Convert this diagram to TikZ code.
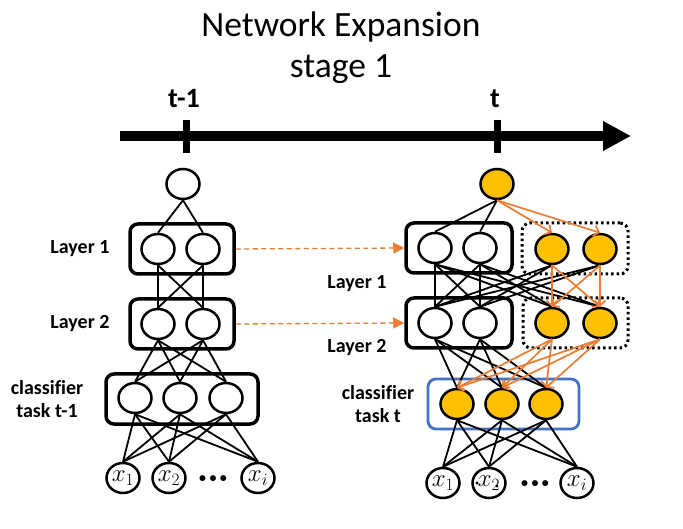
\documentclass[tikz,border=0pt]{standalone}
\usepackage{fontspec}
\setmainfont{Carlito}
\usetikzlibrary{shapes.geometric,arrows.meta}
\definecolor{nodeor}{HTML}{FFC000}
\definecolor{lineor}{HTML}{ED7D31}
\definecolor{boxblue}{HTML}{4472C4}
\begin{document}
\begin{tikzpicture}[x=1pt,y=-1pt,
  neuron/.style={ellipse,draw,fill=white,line width=2.5pt,minimum width=33pt,minimum height=30pt,inner sep=0pt},
  onode/.style={neuron,fill=nodeor},
  layerbox/.style={draw,rounded corners=8pt,line width=3.5pt,inner sep=0pt},
  dotbox/.style={draw,rounded corners=8pt,line width=3pt,dash pattern=on 2.5pt off 3pt,inner sep=0pt},
  bluebox/.style={draw=boxblue,rounded corners=8pt,line width=2.8pt,inner sep=0pt},
  edge/.style={line width=1.8pt},
  oarrow/.style={draw=lineor,line width=1.7pt,-{Straight Barb[length=5pt,width=11pt]}},
  darrow/.style={draw=lineor,line width=1.3pt,dash pattern=on 5pt off 3.5pt,-{Triangle[length=11pt,width=11pt]}},
  lbl/.style={font=\fontsize{20}{23}\selectfont\bfseries,align=center},
  xin/.style={neuron,font=\fontsize{23}{23}\selectfont}
]
\useasboundingbox (0,0) rectangle (683,529);

% title
\node[anchor=base,font=\fontsize{35.5}{40}\selectfont] (title1) at (341,37) {Network Expansion};
\node[anchor=base,font=\fontsize{35.5}{40}\selectfont] (title2) at (341,78) {stage 1};

% timeline
\coordinate (tl0) at (120,136);
\coordinate (tl1) at (631,136);
\draw[line width=9.5pt,-{Triangle[length=28pt,width=28pt]}] (tl0) -- (tl1);
\coordinate (tk1a) at (186,120); \coordinate (tk1b) at (186,153);
\coordinate (tk2a) at (497,120); \coordinate (tk2b) at (497,153);
\draw[line width=7pt] (tk1a) -- (tk1b);
\draw[line width=7pt] (tk2a) -- (tk2b);
\node[anchor=base,font=\fontsize{28}{28}\selectfont\bfseries] (tm1) at (184,108) {t-1};
\node[anchor=base,font=\fontsize{28}{28}\selectfont\bfseries] (tm0) at (495,108) {t};

% ---------- left network ----------
\node[layerbox,minimum width=104pt,minimum height=50pt] (LB1) at (182,249) {};
\node[layerbox,minimum width=104pt,minimum height=50pt] (LB2) at (182,324) {};
\node[layerbox,minimum width=152pt,minimum height=50pt] (LBC) at (182,399) {};

\node[neuron] (lt) at (183,184) {};
\node[neuron] (la1) at (158,249) {};
\node[neuron] (la2) at (203,249) {};
\node[neuron] (lb1) at (158,324) {};
\node[neuron] (lb2) at (203,324) {};
\node[neuron] (lc1) at (135,398) {};
\node[neuron] (lc2) at (180,398) {};
\node[neuron] (lc3) at (226,398) {};
\node[xin] (lx1) at (123,478) {$x_1$};
\node[xin] (lx2) at (169,478) {$x_2$};
\node[xin] (lxi) at (258,478) {$x_i$};
\node[font=\fontsize{14}{14}\selectfont\bfseries] (ldots) at (213,479) {•\hspace{3.5pt}•\hspace{3.5pt}•};

\foreach \a in {la1,la2} \draw[edge] (lt.south) -- (\a.north);
\foreach \a in {la1,la2} \foreach \b in {lb1,lb2} \draw[edge] (\a.south) -- (\b.north);
\foreach \a in {lb1,lb2} \foreach \b in {lc1,lc2,lc3} \draw[edge] (\a.south) -- (\b.north);
\foreach \a in {lc1,lc2,lc3} \foreach \b in {lx1,lx2,lxi} \draw[edge] (\a.south) -- (\b.north);

\node[lbl] (ll1) at (80,249) {Layer 1};
\node[lbl] (ll2) at (80,324) {Layer 2};
\node[lbl] (llc) at (47,399) {classif\kern0pt ier\\[0pt]task t-1};

% ---------- right network ----------
\node[layerbox,minimum width=106pt,minimum height=50pt] (RB1) at (459,248) {};
\node[layerbox,minimum width=106pt,minimum height=50pt] (RB2) at (459,323) {};
\node[dotbox,minimum width=106pt,minimum height=51pt] (RD1) at (575,248.5) {};
\node[dotbox,minimum width=105pt,minimum height=50pt] (RD2) at (575.5,323) {};
\node[bluebox,minimum width=151pt,minimum height=50pt] (RBC) at (503.5,404) {};

\node[onode] (rt) at (497,184) {};
\node[neuron] (ra1) at (435,248) {};
\node[neuron] (ra2) at (480,248) {};
\node[onode] (ra3) at (552,249) {};
\node[onode] (ra4) at (600,249) {};
\node[neuron] (rb1) at (435,323) {};
\node[neuron] (rb2) at (480,323) {};
\node[onode] (rb3) at (552,323) {};
\node[onode] (rb4) at (600,323) {};
\node[onode] (rc1) at (457,404) {};
\node[onode] (rc2) at (502,404) {};
\node[onode] (rc3) at (546,404) {};
\node[xin] (rx1) at (443,483) {$x_1$};
\node[xin] (rx2) at (489,483) {$x_2$};
\node[xin] (rxi) at (577,483) {$x_i$};
\node[font=\fontsize{14}{14}\selectfont\bfseries] (rdots) at (535,484) {•\hspace{3.5pt}•\hspace{3.5pt}•};
\fill (477,483) circle (1.6pt);
\fill (497,486) circle (1.6pt);

\foreach \a in {ra1,ra2} \draw[edge] (rt.south) -- (\a.north);
\foreach \a in {ra3,ra4} \draw[oarrow] (rt.south) -- (\a.north);
\foreach \a in {ra1,ra2} \foreach \b in {rb1,rb2,rb3,rb4} \draw[edge] (\a.south) -- (\b.north);
\foreach \a in {ra3,ra4} \foreach \b in {rb1,rb2} \draw[edge] (\a.south) -- (\b.north);
\foreach \a in {ra3,ra4} \foreach \b in {rb3,rb4} \draw[oarrow] (\a.south) -- (\b.north);
\foreach \a in {rb1,rb2} \foreach \b in {rc1,rc2,rc3} \draw[edge] (\a.south) -- (\b.north);
\foreach \a in {rb3,rb4} \foreach \b in {rc1,rc2,rc3} \draw[oarrow] (\a.south) -- (\b.north);
\foreach \a in {rc1,rc2,rc3} \foreach \b in {rx1,rx2,rxi} \draw[edge] (\a.south) -- (\b.north);

\node[lbl] (rl1) at (357,284) {Layer 1};
\node[lbl] (rl2) at (357,348) {Layer 2};
\node[lbl] (rlc) at (378,404) {classif\kern0pt ier\\[0pt]task t};

% transfer arrows
\draw[darrow] (LB1.east) -- (RB1.west);
\draw[darrow] (LB2.east) -- (RB2.west);
\end{tikzpicture}
\end{document}
